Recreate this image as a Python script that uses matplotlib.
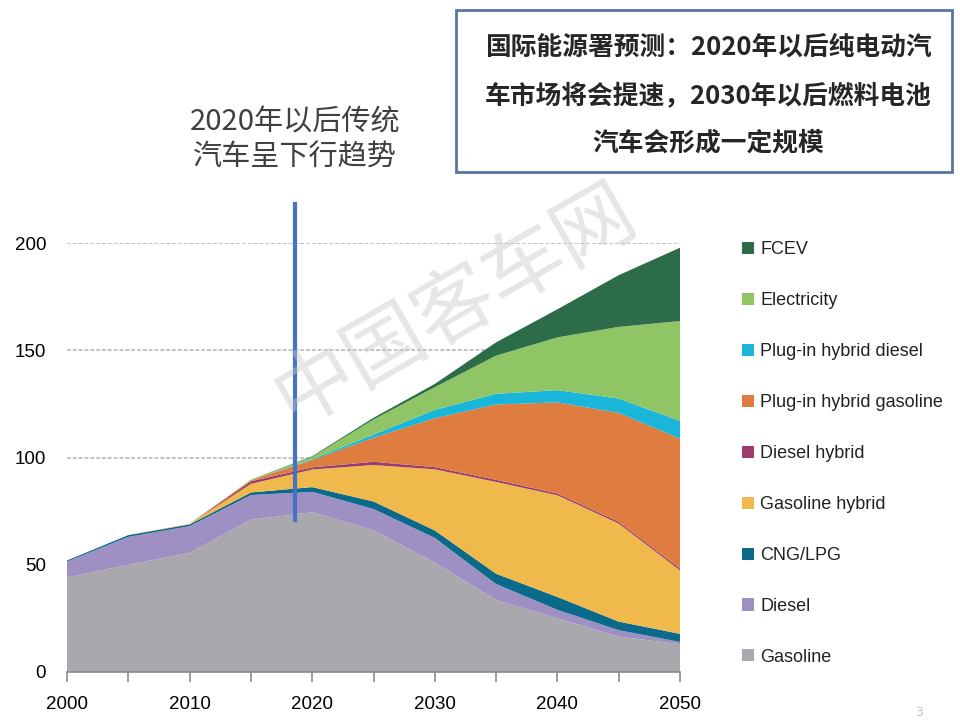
import matplotlib
matplotlib.use("Agg")
import matplotlib.pyplot as plt
from matplotlib.patches import Patch, Rectangle

years = [2000, 2005, 2010, 2015, 2020, 2025, 2030, 2035, 2040, 2045, 2050]
gasoline = [44, 50, 55.5, 71, 74.5, 66, 51, 33.5, 25, 16.5, 13]
diesel = [7.5, 13, 12.5, 11.5, 9.5, 10, 11.5, 7.5, 4, 3, 1]
cng_lpg = [0.5, 0.8, 0.8, 1.2, 2.2, 3.5, 3.5, 4.8, 6, 4, 3.8]
gasoline_hybrid = [0, 0, 0.3, 4, 8.2, 17, 28.5, 42.8, 47.4, 45.7, 29.6]
diesel_hybrid = [0, 0, 0, 1.2, 1, 1.5, 1, 1, 0.8, 0.8, 0.8]
phev_gasoline = [0, 0, 0, 0.5, 3.4, 11.2, 22.8, 35.1, 42.5, 50.8, 60.6]
phev_diesel = [0, 0, 0, 0, 0.4, 1.5, 3.9, 5, 5.7, 6.7, 8.2]
electricity = [0, 0, 0, 0.3, 1.1, 7, 10.6, 17.8, 24.6, 33.4, 46.6]
fcev = [0, 0, 0, 0, 0.3, 0.8, 1.5, 6.2, 13.1, 24.1, 34.2]

series = [gasoline, diesel, cng_lpg, gasoline_hybrid, diesel_hybrid,
          phev_gasoline, phev_diesel, electricity, fcev]
labels = ["Gasoline", "Diesel", "CNG/LPG", "Gasoline hybrid", "Diesel hybrid",
          "Plug-in hybrid gasoline", "Plug-in hybrid diesel", "Electricity", "FCEV"]
colors = ["#a9a9ad", "#9f90c4", "#0b6a8c", "#f0b94c", "#9a3c6c",
          "#df7c40", "#19b6d9", "#8fc565", "#2c6c49"]

x_ticks = [2000, 2010, 2020, 2030, 2040, 2050]
y_ticks = [0, 50, 100, 150, 200]

latin = "Liberation Sans"
cjk = ["Noto Sans CJK SC", "DejaVu Sans"]

fig = plt.figure(figsize=(9.6, 7.23), dpi=100)
ax = fig.add_axes([67/960, 1-672/723, (680-67)/960, (672-243)/723])

ax.stackplot(years, *series, colors=colors, linewidth=0)
ax.set_xlim(2000, 2050)
ax.set_ylim(0, 200)

for y in y_ticks[1:]:
    ax.axhline(y, color="#c2c2c2", lw=1.4, ls=(0, (2, 1)), zorder=0)
ax.set_axisbelow(True)

for s in ["left", "right", "top"]:
    ax.spines[s].set_visible(False)
ax.spines["bottom"].set_color("#8a8a8a")
ax.spines["bottom"].set_linewidth(1.2)

ax.set_xticks(years)
ax.set_xticklabels([str(y) if y in x_ticks else "" for y in years],
                   fontfamily=latin, fontsize=13.5)
ax.tick_params(axis="x", length=7, width=1.2, color="#8a8a8a", pad=10)
ax.set_yticks(y_ticks)
ax.set_yticklabels([str(v) for v in y_ticks], fontfamily=latin, fontsize=13.5)
ax.tick_params(axis="y", length=0, pad=15)

# blue vertical marker line
ax.plot([2018.6, 2018.6], [71, 218], color="#4472c4", lw=3, clip_on=False, zorder=5)

# annotation text
fig.text(295/960, 1-140/723, "2020年以后传统\n汽车呈下行趋势", ha="center", va="center",
         fontsize=21, color="#404040", family=cjk, linespacing=1.25)

# box top-right
fig.patches.append(Rectangle((456/960, 1-172/723), (952-456)/960, (172-10)/723,
                             transform=fig.transFigure, fill=False,
                             edgecolor="#5874a8", lw=2))
for ty, line in [(47, "国际能源署预测：2020年以后纯电动汽"),
                 (96, "车市场将会提速，2030年以后燃料电池"),
                 (143, "汽车会形成一定规模")]:
    fig.text(708/960, 1-ty/723, line, ha="center", va="center",
             fontsize=18.5, color="#262626", family=cjk, fontweight="bold")

# watermark
fig.text(455/960, 1-305/723, "中国客车网", ha="center", va="center", rotation=30,
         fontsize=58, color="#c8c8c8", alpha=0.45, family=cjk)

# legend
handles = [Patch(facecolor=c, edgecolor="none", label=l) for c, l in zip(colors, labels)]
leg = fig.legend(handles[::-1], labels[::-1], loc="upper left",
                 bbox_to_anchor=(726/960, 1-225/723), frameon=False,
                 prop={"family": latin, "size": 13}, handlelength=0.65,
                 handleheight=0.65, handletextpad=0.35, labelspacing=1.88)
for t in leg.get_texts():
    t.set_color("#222222")

fig.text(915/960, 1-716/723, "3", fontsize=9, color="#c0c0c0")

fig.savefig("out.png", dpi=100)
